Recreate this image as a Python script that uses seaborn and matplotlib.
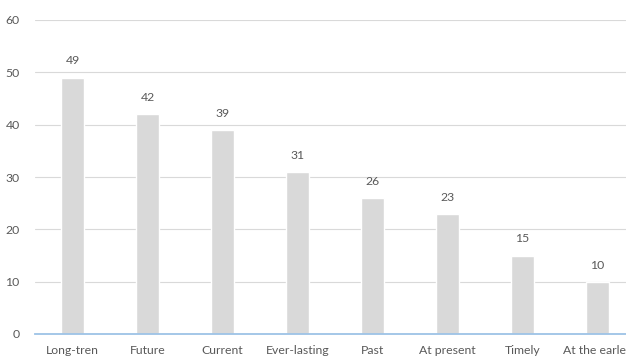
import matplotlib
matplotlib.use("Agg")
import matplotlib.pyplot as plt
import seaborn as sns
import pandas as pd

categories = ["Long-tren", "Future", "Current", "Ever-lasting", "Past",
              "At present", "Timely", "At the earles"]
counts = [49, 42, 39, 31, 26, 23, 15, 10]
y_ticks = [0, 10, 20, 30, 40, 50, 60]

df = pd.DataFrame({"term": categories, "count": counts})

sns.set_theme(style="white")
plt.rcParams["font.family"] = ["Lato", "DejaVu Sans"]
text_color = "#595959"

fig = plt.figure(figsize=(6.26, 3.58), dpi=100)
ax = fig.add_axes([35 / 626, 24 / 358, 600 / 626, 314 / 358])

sns.barplot(data=df, x="term", y="count", color="#D9D9D9", width=0.31,
            saturation=1, ax=ax, zorder=3)

ax.set_ylim(0, 60)
ax.set_yticks(y_ticks)
ax.set_xlim(-0.5, len(categories) - 0.5)
ax.yaxis.grid(True, color="#D9D9D9", linewidth=0.8, zorder=0)
ax.xaxis.grid(False)
for s in ["top", "right", "left"]:
    ax.spines[s].set_visible(False)
ax.spines["bottom"].set_color("#9DC3E6")
ax.spines["bottom"].set_linewidth(1.3)
ax.spines["bottom"].set_zorder(4)

ax.tick_params(axis="both", length=0, labelsize=8.8, labelcolor=text_color)
ax.tick_params(axis="y", pad=11)
ax.tick_params(axis="x", pad=8)
ax.set_xlabel("")
ax.set_ylabel("")

for i, v in enumerate(counts):
    ax.annotate(str(v), (i, v), xytext=(0, 8), textcoords="offset points",
                ha="center", va="bottom", fontsize=8.8, color=text_color)

fig.savefig("out.png", dpi=100)
